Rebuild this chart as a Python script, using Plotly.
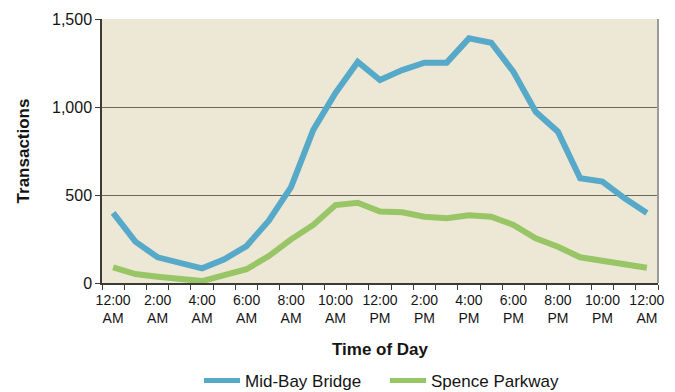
import plotly.graph_objects as go

# Hourly transactions, 12:00 AM through the following 12:00 AM
hours = list(range(25))
tick_positions = [0, 2, 4, 6, 8, 10, 12, 14, 16, 18, 20, 22, 24]
tick_labels = ["12:00<br>AM", "2:00<br>AM", "4:00<br>AM", "6:00<br>AM", "8:00<br>AM",
               "10:00<br>AM", "12:00<br>PM", "2:00<br>PM", "4:00<br>PM", "6:00<br>PM",
               "8:00<br>PM", "10:00<br>PM", "12:00<br>AM"]

mid_bay = [398, 235, 146, 112, 83, 135, 210, 354, 545, 870, 1080, 1256,
           1153, 1210, 1252, 1252, 1390, 1365, 1200, 973, 860, 595, 576, 481, 398]
spence = [89, 51, 36, 23, 11, 45, 78, 153, 248, 330, 443, 456,
          406, 402, 377, 368, 385, 377, 330, 254, 206, 146, 127, 112, 87]

blue = "#57A9C9"
green = "#98C566"
font = "Liberation Sans, Arial, sans-serif"
ink = "#141414"

fig = go.Figure()
fig.add_trace(go.Scatter(x=hours, y=mid_bay, mode="lines", name="Mid-Bay Bridge",
                         line=dict(color=blue, width=6)))
fig.add_trace(go.Scatter(x=hours, y=spence, mode="lines", name="Spence Parkway",
                         line=dict(color=green, width=6)))

fig.update_layout(
    width=675, height=392,
    margin=dict(l=102, r=17, t=19, b=109),
    paper_bgcolor="white",
    plot_bgcolor="#ECE8D5",
    font=dict(family=font, color=ink),
    showlegend=True,
    legend=dict(orientation="h", x=0.509, xanchor="center",
                yref="container", y=0.028, yanchor="middle",
                font=dict(size=17, family=font, color=ink),
                itemwidth=36, tracegroupgap=0, itemsizing="constant",
                entrywidth=135, entrywidthmode="pixels"),
)

fig.update_xaxes(
    range=[-0.5, 24.5], automargin=False,
    tickmode="array", tickvals=tick_positions, ticktext=tick_labels,
    ticks="", ticklabelstandoff=3,
    tickfont=dict(size=14, family=font, color=ink),
    showgrid=False, zeroline=False,
    showline=True, linecolor="#3d3a33", linewidth=1.5,
    minor=dict(tick0=-0.5, dtick=1, ticks="outside", ticklen=5,
               tickcolor="#3d3a33", showgrid=False),
    title=dict(text="<b>Time of Day</b>", font=dict(size=17, family=font, color=ink),
               standoff=18),
)

fig.update_yaxes(
    range=[0, 1500], automargin=False,
    tickvals=[0, 500, 1000, 1500], tickformat=",",
    ticks="outside", ticklen=5, tickcolor="#3d3a33",
    tickfont=dict(size=16, family=font, color=ink),
    showgrid=True, gridcolor="#6B675C", gridwidth=1.3,
    zeroline=False,
    showline=True, linecolor="#3d3a33", linewidth=1.5,
    title=dict(text="<b>Transactions</b>", font=dict(size=17, family=font, color=ink),
               standoff=18),
)

# light frame on the right edge of the plot area
fig.add_shape(type="line", xref="paper", yref="paper", x0=1, x1=1, y0=0, y1=1,
              line=dict(color="#9a9a9a", width=2), layer="above")

fig.write_html("out.html")
